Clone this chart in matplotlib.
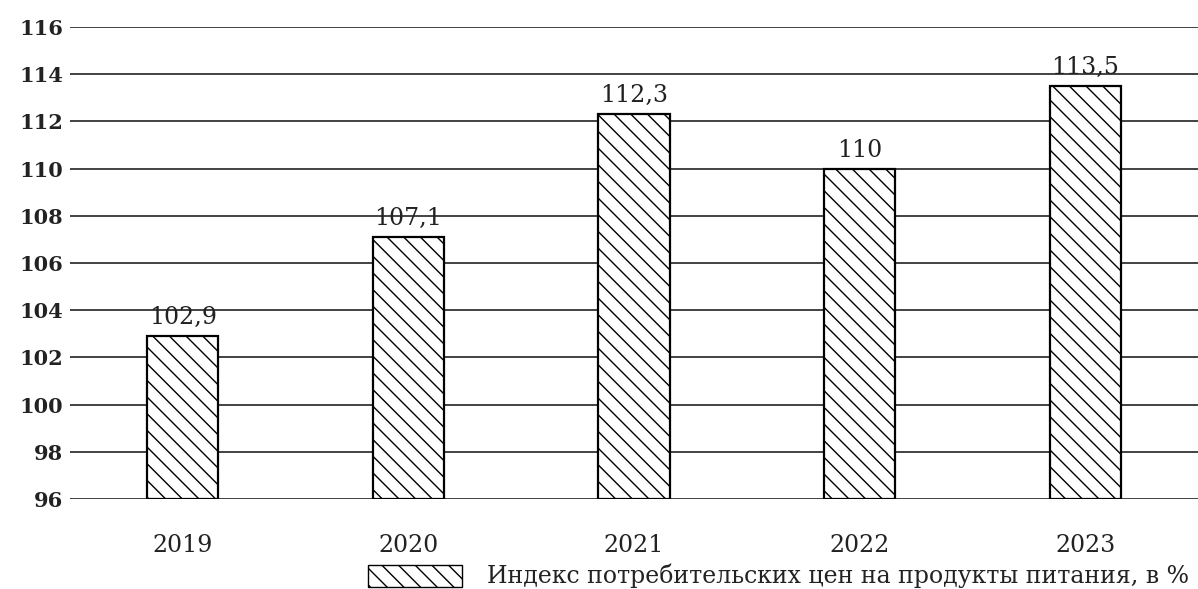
import numpy as np
import matplotlib.pyplot as plt
from matplotlib.patches import Rectangle

# Данные
years = ["2019", "2020", "2021", "2022", "2023"]
values = [102.9, 107.1, 112.3, 110.0, 113.5]
labels = ["102,9", "107,1", "112,3", "110", "113,5"]
yticks = [96, 98, 100, 102, 104, 106, 108, 110, 112, 114, 116]
legend_text = "Индекс потребительских цен на продукты питания, в %"

plt.rcParams['font.family'] = ['DejaVu Serif']
plt.rcParams['hatch.linewidth'] = 1.0

fig = plt.figure(figsize=(11.98, 5.89), dpi=100)
ax = fig.add_axes([70 / 1198, 90 / 589, 1128 / 1198, 472 / 589])

x = np.arange(len(years))
ax.set_xlim(-0.5, 4.5)
ax.set_ylim(96, 116)

# Горизонтальные линии сетки
for t in yticks:
    ax.axhline(t, color='#222222', lw=1.2, zorder=1)

bars = ax.bar(x, [v - 96 for v in values], bottom=96, width=0.315,
              color='white', edgecolor='black', linewidth=1.6,
              hatch='\\\\', zorder=3)

for xi, v, lab in zip(x, values, labels):
    ax.text(xi, v + 0.3, lab, ha='center', va='bottom', fontsize=17,
            color='#222222')

for s in ax.spines.values():
    s.set_visible(False)
ax.set_yticks(yticks)
ax.set_yticklabels([str(t) for t in yticks], fontsize=15, fontweight='bold',
                   color='#222222')
ax.tick_params(axis='y', length=0, pad=5)
ax.set_xticks(x)
ax.set_xticklabels(years, fontsize=17, color='#222222')
ax.tick_params(axis='x', length=0, pad=25)

# Легенда
fig.patches.append(Rectangle((368 / 1198, 1 - 587 / 589), 94 / 1198, 22 / 589,
                             transform=fig.transFigure, facecolor='white',
                             edgecolor='black', lw=1.0, hatch='\\\\'))
leg = fig.text(487 / 1198, 1 - 576 / 589, legend_text, fontsize=17,
               va='center', ha='left', color='#222222')

# подогнать шрифт легенды, чтобы текст не обрезался
fig.canvas.draw()
r = fig.canvas.get_renderer()
w = leg.get_window_extent(r).width
if w > 1194 - 487:
    leg.set_fontsize(17 * (1194 - 487) / w)

fig.savefig("out.png", dpi=100)
